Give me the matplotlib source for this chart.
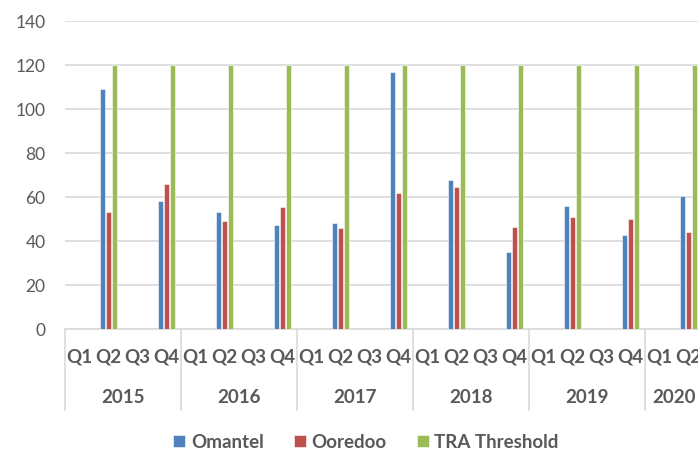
import numpy as np
import matplotlib
matplotlib.use("Agg")
import matplotlib.pyplot as plt
from matplotlib.transforms import blended_transform_factory

years = ["2015", "2016", "2017", "2018", "2019", "2020"]
quarters = ["Q1", "Q2", "Q3", "Q4"]

# values only reported for Q2 and Q4 (half-yearly)
nan = np.nan
omantel = [nan, 109, nan, 58, nan, 53.2, nan, 47.1, nan, 48.0, nan, 117.0,
           nan, 67.6, nan, 34.9, nan, 55.8, nan, 42.6, nan, 60.5]
ooredoo = [nan, 53.2, nan, 65.8, nan, 48.9, nan, 55.3, nan, 45.9, nan, 61.7,
           nan, 64.5, nan, 46.4, nan, 50.9, nan, 50.1, nan, 44.1]
threshold = [nan if v != v else 120 for v in omantel]

labels = []
for y in years:
    for q in quarters:
        labels.append(q)
labels = labels[:len(omantel)]

plt.rcParams['font.family'] = ['Lato', 'DejaVu Sans']
grey = "#595959"
line_c = "#d9d9d9"

fig = plt.figure(figsize=(6.98, 4.49), dpi=100)
ax = fig.add_axes([65 / 698, 120 / 449, 633 / 698, 308 / 449])

x = np.arange(len(omantel))
w = 0.2
ax.bar(x - w, omantel, w * 0.95, color="#4F81BD", edgecolor="white", linewidth=0.4, label="Omantel", zorder=3)
ax.bar(x, ooredoo, w * 0.95, color="#C0504D", edgecolor="white", linewidth=0.4, label="Ooredoo", zorder=3)
ax.bar(x + w, threshold, w * 0.95, color="#9BBB59", edgecolor="white", linewidth=0.4, label="TRA Threshold", zorder=3)

ax.set_xlim(-0.5, (698 - 79.5) / 29)
ax.set_ylim(0, 140)
ax.set_yticks(range(0, 141, 20))
ax.grid(axis="y", color=line_c, linewidth=1.2, zorder=0)
ax.tick_params(axis="y", length=0, pad=14, labelsize=12.5, labelcolor=grey)
ax.set_xticks([])
for s in ["top", "right", "left"]:
    ax.spines[s].set_visible(False)
ax.spines["bottom"].set_color(line_c)
ax.spines["bottom"].set_linewidth(1.2)

tr = blended_transform_factory(ax.transData, ax.transAxes)
for i, lab in enumerate(labels):
    ax.text(i, -0.091, lab, transform=tr, ha="center", va="center",
            fontsize=13.5, fontweight="bold", color=grey, clip_on=False)
for k, yr in enumerate(years):
    n = min(4, len(labels) - 4 * k)
    ax.text(4 * k + (n - 1) / 2, -0.221, yr, transform=tr, ha="center", va="center",
            fontsize=13.5, fontweight="bold", color=grey, clip_on=False)
    ax.plot([4 * k - 0.5, 4 * k - 0.5], [0, -0.263], transform=tr, color=line_c,
            linewidth=1.2, clip_on=False)

fig.legend(loc="center", bbox_to_anchor=(366 / 698, 1 - 442 / 449), ncol=3, frameon=False,
           prop={"weight": "bold", "size": 13.5}, labelcolor=grey, handlelength=0.65,
           handleheight=0.65, handletextpad=0.3, columnspacing=1.6)

fig.savefig("out.png", dpi=100)
